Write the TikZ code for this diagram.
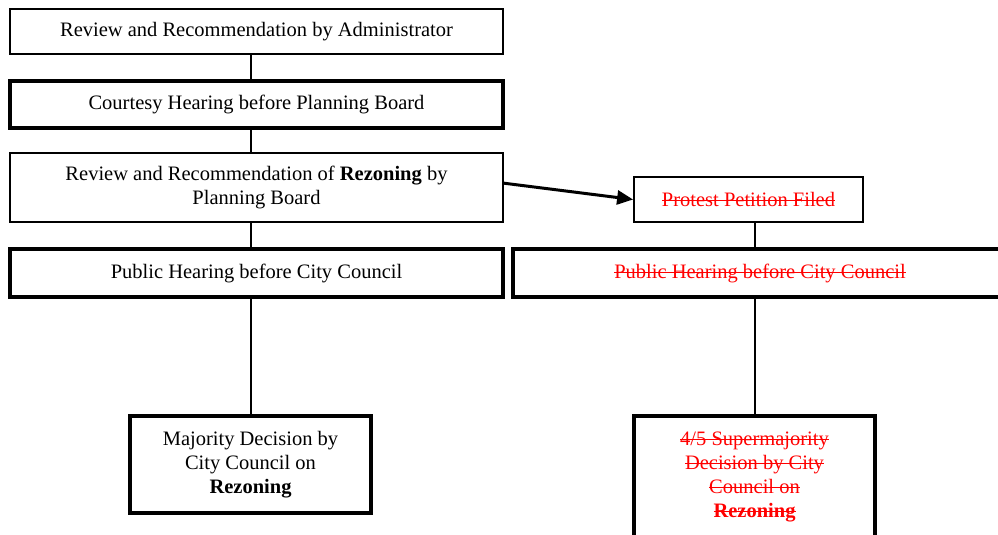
\documentclass[tikz,border=0pt]{standalone}
\usepackage{fontspec}
\setmainfont{Liberation Serif}
\usetikzlibrary{arrows.meta}
\newcommand{\struck}[1]{\textcolor{red}{\setbox0\hbox{#1}\rlap{\rule[0.26em]{\wd0}{1.1pt}}\box0}}

\begin{document}
\begin{tikzpicture}[x=1pt, y=-1pt]
  \tikzset{
    stepbox/.style={draw, rectangle, line width=1.8pt, align=center, inner sep=0pt,
      font=\fontsize{20.5}{24}\selectfont},
    thickbox/.style={stepbox, line width=3.8pt},
    link/.style={draw, line width=2pt}
  }
  \useasboundingbox (0,0) rectangle (998,535);
  \clip (0,0) rectangle (998,535);
  % left column
  \node[stepbox, minimum width=493pt, minimum height=45pt] (admin) at (256.5,31.5)
    {Review and Recommendation by Administrator};
  \node[thickbox, minimum width=493pt, minimum height=47pt] (courtesy) at (256.5,104.5)
    {Courtesy Hearing before Planning Board};
  \node[stepbox, minimum width=493pt, minimum height=69pt] (review) at (256.5,187.5)
    {Review and Recommendation of \textbf{Rezoning} by\\Planning Board};
  \node[thickbox, minimum width=493pt, minimum height=48pt] (hearing) at (256.5,273)
    {Public Hearing before City Council};
  \node[thickbox, minimum width=241pt, minimum height=97pt] (majority) at (250.5,464.5)
    {Majority Decision by\\City Council on\\\textbf{Rezoning}};
  % right column
  \node[stepbox, minimum width=229pt, minimum height=45pt] (protest) at (748.5,199.5)
    {\struck{Protest Petition Filed}};
  \node[thickbox, minimum width=494pt, minimum height=48pt] (hearingX) at (760,273)
    {\struck{Public Hearing before City Council}};
  \node[thickbox, minimum width=241pt, minimum height=122pt] (supermajority) at (754.5,477)
    {\struck{4/5 Supermajority}\\\struck{Decision by City}\\\struck{Council on}\\\struck{\textbf{Rezoning}}};
  % connectors
  \path[link] (admin.south -| majority.north) -- (courtesy.north -| majority.north);
  \path[link] (courtesy.south -| majority.north) -- (review.north -| majority.north);
  \path[link] (review.south -| majority.north) -- (hearing.north -| majority.north);
  \path[link] (hearing.south -| majority.north) -- (majority.north);
  \path[link] (protest.south -| supermajority.north) -- (hearingX.north -| supermajority.north);
  \path[link] (hearingX.south -| supermajority.north) -- (supermajority.north);
  \draw[line width=3pt, -{Triangle[length=16pt, width=14pt]}] (review.1.6) -- (protest.west);
\end{tikzpicture}
\end{document}
